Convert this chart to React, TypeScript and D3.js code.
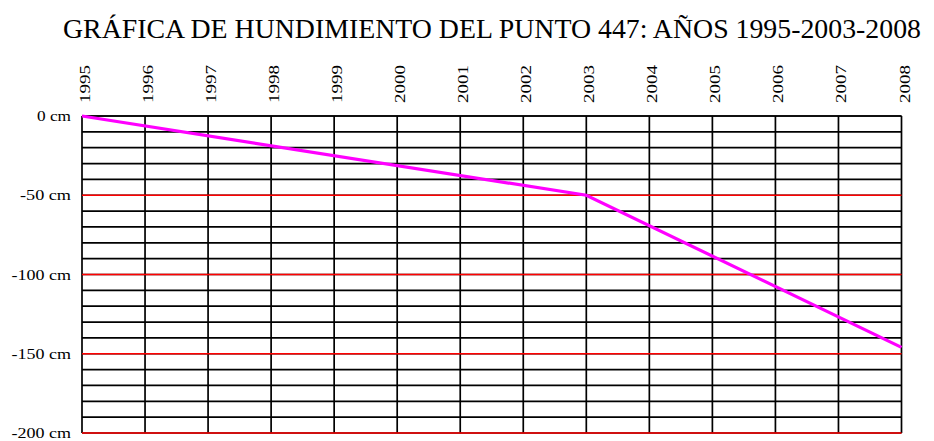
import React from "react";
import * as d3 from "d3";

const years = [1995, 1996, 1997, 1998, 1999, 2000, 2001, 2002, 2003, 2004, 2005, 2006, 2007, 2008];
const pointYears = [1995, 2003, 2008];
const pointValues = [0, -50, -146];
const majorTicks = [0, -50, -100, -150, -200];
const majorLabels = ["0 cm", "-50 cm", "-100 cm", "-150 cm", "-200 cm"];
const minorTicks = d3.range(0, -201, -10);
const title = "GRÁFICA DE HUNDIMIENTO DEL PUNTO 447: AÑOS 1995-2003-2008";

export default function App() {
  const W = 934, H = 441;
  const x = d3.scaleLinear().domain([1995, 2008]).range([82, 901.5]);
  const y = d3.scaleLinear().domain([0, -200]).range([116, 433]);
  const line = d3.line<number>().x((d, i) => x(pointYears[i])).y((d) => y(d));
  const font = "'Liberation Serif', 'DejaVu Serif', serif";
  return (
    <svg width={W} height={H} style={{ position: "absolute", left: 0, top: 0, background: "#fff" }}>
      <text x={63} y={38} fontFamily={font} fontSize={28} textLength={858} lengthAdjust="spacingAndGlyphs" fill="#000">
        {title}
      </text>
      {years.map((yr) => (
        <text
          key={yr}
          transform={`translate(${x(yr) + 8},103) rotate(-90)`}
          fontFamily={font}
          fontSize={15}
          textLength={38}
          lengthAdjust="spacingAndGlyphs"
          fill="#000"
        >
          {yr}
        </text>
      ))}
      {minorTicks.map((v) => (
        <line key={"h" + v} x1={x(1995)} x2={x(2008)} y1={y(v)} y2={y(v)}
          stroke="#000" strokeWidth={1.7} />
      ))}
      {years.map((yr) => (
        <line key={"v" + yr} x1={x(yr)} x2={x(yr)} y1={y(0)} y2={y(-200)} stroke="#000" strokeWidth={1.7} />
      ))}
      {majorTicks.map((v) => (
        <line key={"r" + v} x1={x(1995)} x2={x(2008)} y1={y(v)} y2={y(v)}
          stroke={v !== 0 ? "#ff0000" : "#000"} strokeWidth={1.7} />
      ))}
      {majorTicks.map((v, i) => (
        <text key={"l" + v} x={71} y={y(v) + 5} textAnchor="end" fontFamily={font} fontSize={14}
          textLength={majorLabels[i].length * 8.5} lengthAdjust="spacingAndGlyphs" fill="#000">
          {majorLabels[i]}
        </text>
      ))}
      <path d={line(pointValues) || ""} fill="none" stroke="#ff00ff" strokeWidth={3.2} />
    </svg>
  );
}
